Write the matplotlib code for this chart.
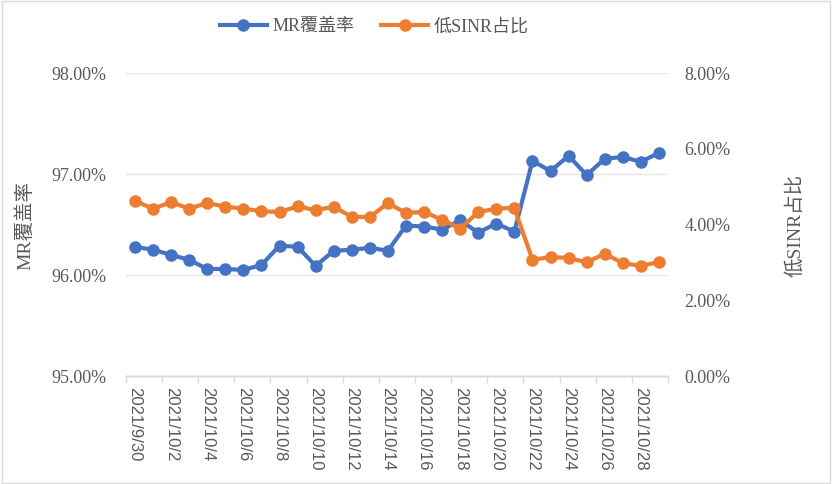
import matplotlib.pyplot as plt
from matplotlib.ticker import FuncFormatter, MultipleLocator
import numpy as np

dates = ["2021/9/30"] + ["2021/10/%d" % d for d in range(1, 30)]

mr_cover = [96.28, 96.25, 96.20, 96.15, 96.06, 96.06, 96.05, 96.10, 96.29, 96.28,
            96.09, 96.24, 96.25, 96.27, 96.24, 96.49, 96.48, 96.45, 96.54, 96.42,
            96.51, 96.43, 97.13, 97.03, 97.18, 96.99, 97.15, 97.17, 97.12, 97.21]

low_sinr = [4.62, 4.42, 4.59, 4.42, 4.57, 4.47, 4.42, 4.35, 4.33, 4.48,
            4.38, 4.47, 4.20, 4.20, 4.56, 4.31, 4.33, 4.13, 3.89, 4.33,
            4.42, 4.44, 3.07, 3.14, 3.12, 3.00, 3.23, 2.98, 2.91, 3.01]

serif = ["Liberation Serif", "Noto Sans CJK SC"]
blue = "#4472C4"
orange = "#ED7D31"
txt = "#595959"

fig = plt.figure(figsize=(8.32, 4.84), dpi=100)
# chart area border like Excel
fig.patches.append(plt.Rectangle((0.002, 0.002), 0.996, 0.996, transform=fig.transFigure,
                                 fill=False, edgecolor="#D9D9D9", linewidth=1))

ax = fig.add_axes([0.1514, 0.2231, 0.6514, 0.6260])
ax2 = ax.twinx()

x = np.arange(len(dates))
l1, = ax.plot(x, mr_cover, color=blue, lw=3, marker="o", ms=8, label="MR覆盖率", zorder=3)
l2, = ax2.plot(x, low_sinr, color=orange, lw=3, marker="o", ms=8, label="低SINR占比", zorder=3)

ax.set_ylim(95, 98)
ax.yaxis.set_major_locator(MultipleLocator(1))
ax2.set_ylim(0, 8)
ax2.yaxis.set_major_locator(MultipleLocator(2))
pct = FuncFormatter(lambda v, p: "%.2f%%" % v)
ax.yaxis.set_major_formatter(pct)
ax2.yaxis.set_major_formatter(pct)

ax.set_xlim(-0.5, len(dates) - 0.5)
ax.set_xticks(x[::2])
ax.set_xticklabels(dates[::2], rotation=270, fontsize=12, color=txt, family="Liberation Sans")
ax.set_xticks(np.arange(-0.5, len(dates), 2), minor=True)
ax.tick_params(axis="x", which="major", length=0, pad=8)
ax.tick_params(axis="x", which="minor", length=5, color="#D9D9D9", width=1)

ax.grid(axis="y", color="#E6E6E6", lw=1)
ax.set_axisbelow(True)
for a in (ax, ax2):
    for s in ("top", "left", "right"):
        a.spines[s].set_visible(False)
    a.spines["bottom"].set_color("#D9D9D9")
    a.spines["bottom"].set_linewidth(1)
ax.tick_params(axis="y", length=0, pad=14, labelcolor=txt)
ax2.tick_params(axis="y", length=0, pad=12, labelcolor=txt)
for lab in ax.get_yticklabels() + ax2.get_yticklabels():
    lab.set_family(serif)
    lab.set_fontsize(13)

fig.text(0.030, 0.535, "MR覆盖率", rotation=90, ha="center", va="center",
         fontsize=14, color=txt, family=serif)
fig.text(0.956, 0.535, "低SINR占比", rotation=90, ha="center", va="center",
         fontsize=14, color=txt, family=serif)

fig.legend(handles=[l1, l2], loc="center", bbox_to_anchor=(0.45, 0.945), ncol=2,
           frameon=False, prop={"family": serif, "size": 13}, labelcolor=txt,
           handlelength=2.6, columnspacing=1.5, handletextpad=0.3)

fig.savefig("out.png", dpi=100)
